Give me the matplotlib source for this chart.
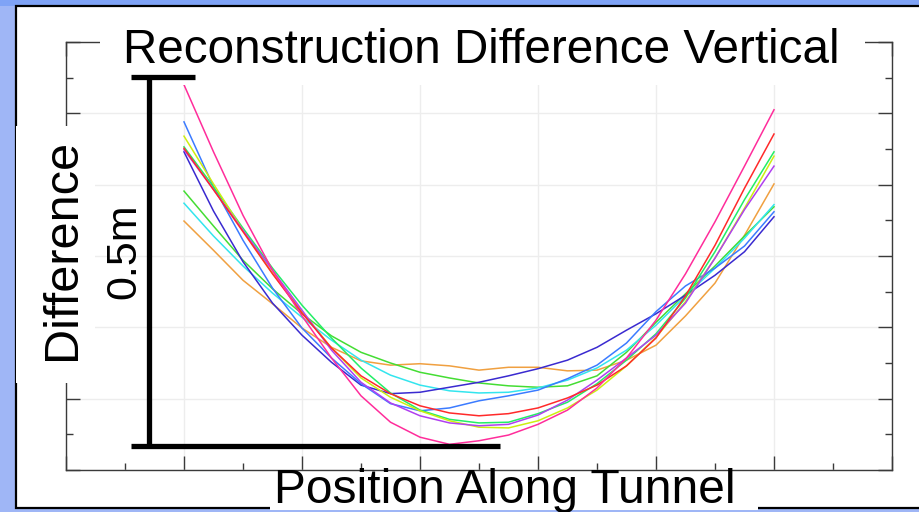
import matplotlib
matplotlib.use("Agg")
import matplotlib.pyplot as plt
import numpy as np
from matplotlib.patches import Rectangle
from matplotlib.ticker import MultipleLocator

plt.rcParams['font.family'] = ['Liberation Sans', 'DejaVu Sans']

# stations along the tunnel, every quarter unit
position = np.arange(0, 5.01, 0.25)

# vertical reconstruction difference per run
pink = [5.40, 4.46, 3.57, 2.80, 2.16, 1.57, 1.04, 0.67, 0.46, 0.36, 0.41,
        0.49, 0.64, 0.84, 1.15, 1.57, 2.10, 2.75, 3.48, 4.26, 5.05]
red = [4.51, 3.93, 3.34, 2.75, 2.20, 1.71, 1.32, 1.07, 0.90, 0.80, 0.76,
       0.79, 0.87, 1.01, 1.19, 1.46, 1.85, 2.44, 3.15, 3.95, 4.71]
spring = [4.53, 3.97, 3.39, 2.83, 2.31, 1.85, 1.43, 1.08, 0.84, 0.71, 0.66,
          0.67, 0.79, 0.95, 1.21, 1.54, 1.91, 2.41, 3.06, 3.79, 4.46]
purple = [4.49, 3.93, 3.36, 2.80, 2.24, 1.68, 1.23, 0.94, 0.76, 0.66, 0.62,
          0.64, 0.77, 0.98, 1.26, 1.57, 1.89, 2.34, 2.97, 3.65, 4.26]
yellow = [4.68, 4.01, 3.36, 2.76, 2.22, 1.71, 1.29, 1.02, 0.83, 0.69, 0.60,
          0.59, 0.69, 0.87, 1.12, 1.46, 1.86, 2.36, 2.97, 3.67, 4.40]
orange = [3.49, 3.08, 2.66, 2.33, 1.99, 1.72, 1.53, 1.47, 1.49, 1.46, 1.40,
          1.44, 1.44, 1.39, 1.40, 1.54, 1.75, 2.16, 2.62, 3.29, 4.01]
green = [3.91, 3.42, 2.94, 2.54, 2.19, 1.88, 1.65, 1.50, 1.37, 1.29, 1.22,
         1.18, 1.16, 1.18, 1.32, 1.65, 2.07, 2.47, 2.86, 3.28, 3.69]
cyan = [3.74, 3.28, 2.86, 2.48, 2.14, 1.82, 1.54, 1.33, 1.19, 1.11, 1.08,
        1.09, 1.15, 1.26, 1.43, 1.68, 2.03, 2.44, 2.83, 3.25, 3.72]
blue = [4.88, 3.97, 3.22, 2.55, 1.99, 1.57, 1.21, 0.93, 0.83, 0.87, 0.97,
        1.04, 1.12, 1.28, 1.47, 1.78, 2.22, 2.58, 2.83, 3.14, 3.62]
indigo = [4.46, 3.63, 2.92, 2.34, 1.89, 1.51, 1.19, 1.07, 1.09, 1.16, 1.23,
          1.32, 1.42, 1.54, 1.72, 1.96, 2.19, 2.45, 2.73, 3.06, 3.55]

runs = [(orange, '#f0a040'), (green, '#44dd33'), (cyan, '#33e5ee'),
        (indigo, '#3a2ad0'), (blue, '#3b7bff'), (spring, '#22ee66'),
        (yellow, '#ccee11'), (purple, '#b040f0'), (red, '#ff2a2a'),
        (pink, '#ff2d9b')]

# 0.5 m scale bar, in axis units
bar_x = -0.30
bar_top, bar_bottom = 5.51, 0.34
bar_left = -0.45
bar_top_right, bar_bottom_right = 0.09, 2.68

W, H = 919, 512
fig = plt.figure(figsize=(W / 100, H / 100), dpi=100)
fig.patch.set_facecolor('#9fb6f6')


def fx(px):
    return px / W


def fy(py):
    return 1 - py / H


# slide background and white panel
fig.patches.append(Rectangle((0, fy(6)), 1, 1 - fy(6), transform=fig.transFigure,
                             facecolor='#7fa3f6', edgecolor='none', zorder=-3))
fig.patches.append(Rectangle((fx(16), fy(508)), 1.0, fy(6) - fy(508),
                             transform=fig.transFigure, facecolor='white',
                             edgecolor='black', lw=1.6, zorder=-2))

ax = fig.add_axes([fx(66), fy(470), fx(892) - fx(66), fy(42) - fy(470)])
ax.set_xlim(-1, 6)
ax.set_ylim(0, 6)
ax.xaxis.set_major_locator(MultipleLocator(1))
ax.xaxis.set_minor_locator(MultipleLocator(0.5))
ax.yaxis.set_major_locator(MultipleLocator(1))
ax.yaxis.set_minor_locator(MultipleLocator(0.5))
ax.tick_params(which='both', direction='in', top=True, right=True,
               labelbottom=False, labelleft=False, color='#3a3a3a', width=1)
ax.tick_params(which='major', length=10)
ax.tick_params(which='minor', length=5)
ax.grid(True, which='major', color='#ededed', lw=1)
for s in ax.spines.values():
    s.set_color('#3a3a3a')
    s.set_linewidth(1)

for vals, c in runs:
    ax.plot(position, vals, color=c, lw=1.1)

# white boxes behind the title and labels
for x0, y0, x1, y1 in [(100, 10, 865, 85), (15.5, 126, 95, 383), (270, 474, 758, 510)]:
    ax.add_patch(Rectangle((fx(x0), fy(y1)), fx(x1) - fx(x0), fy(y0) - fy(y1),
                           transform=fig.transFigure, facecolor='white',
                           edgecolor='none', clip_on=False, zorder=3))

ax.plot([bar_x, bar_x], [bar_bottom, bar_top], color='black', lw=3.8,
        solid_capstyle='butt', clip_on=False, zorder=5)
ax.plot([bar_left, bar_top_right], [bar_top, bar_top], color='black', lw=3.8,
        solid_capstyle='butt', clip_on=False, zorder=5)
ax.plot([bar_left, bar_bottom_right], [bar_bottom, bar_bottom], color='black',
        lw=3.8, solid_capstyle='butt', clip_on=False, zorder=5)

fig.text(fx(481), fy(63), 'Reconstruction Difference Vertical',
         ha='center', va='baseline', fontsize=34.3)
fig.text(fx(505), fy(503), 'Position Along Tunnel',
         ha='center', va='baseline', fontsize=34.5)
fig.text(fx(75), fy(249), 'Difference', rotation=90, rotation_mode='anchor',
         ha='center', va='baseline', fontsize=35)
fig.text(fx(135), fy(251), '0.5m', rotation=90, rotation_mode='anchor',
         ha='center', va='baseline', fontsize=31)

fig.savefig('out.png', dpi=100)
